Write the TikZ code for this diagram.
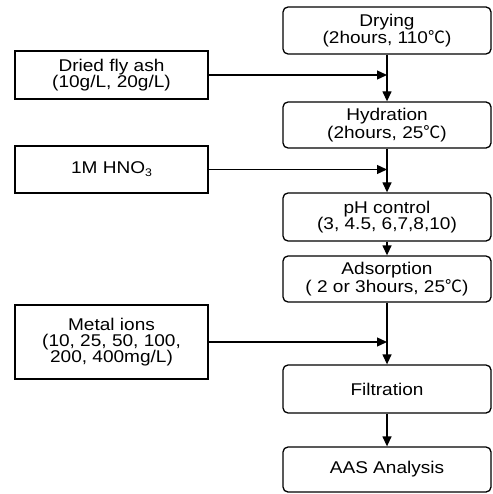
\documentclass[tikz,border=0pt]{standalone}
\usepackage{fontspec}
\setmainfont{Liberation Sans}[FakeStretch=1.12]
\newfontfamily\cjkfont{Noto Sans CJK KR}
\usetikzlibrary{arrows.meta}
\newcommand{\degc}{{\cjkfont ℃}}
\begin{document}
\begin{tikzpicture}[x=1pt,y=-1pt,
  every node/.style={font=\fontsize{17}{16.2}\selectfont, align=center, inner sep=0pt},
  proc/.style={draw, line width=1.3pt, rounded corners=5pt, minimum width=208pt},
  inp/.style={draw, line width=1.3pt, minimum width=193pt},
  arr/.style={line width=1.3pt, -{Triangle[length=10pt,width=9pt]}}]
\useasboundingbox (0,0) rectangle (492,494);
\node[proc, minimum height=47pt] (drying) at (387,30.5) {Drying\\(2hours, 110\degc)};
\node[proc, minimum height=46pt] (hyd) at (387,125) {Hydration\\(2hours, 25\degc)};
\node[proc, minimum height=48pt] (ph) at (387,217) {pH control\\(3, 4.5, 6,7,8,10)};
\node[proc, minimum height=46pt] (ads) at (387,279) {Adsorption\\( 2 or 3hours, 25\degc)};
\node[proc, minimum height=48pt] (filt) at (387,389) {Filtration};
\node[proc, minimum height=45pt] (aas) at (387,469.5) {AAS Analysis};
\node[inp, minimum height=48pt] (ash) at (111.5,75) {Dried fly ash\\(10g/L, 20g/L)};
\node[inp, minimum height=47pt] (hno) at (111.5,169.5) {1M HNO\raisebox{-0.35ex}{\fontsize{11}{11}\selectfont 3}};
\node[inp, minimum height=74pt] (metal) at (111.5,342) {Metal ions\\(10, 25, 50, 100,\\200, 400mg/L)};
\coordinate (j1) at (drying.south |- ash.east);
\coordinate (j2) at (hyd.south |- hno.east);
\coordinate (j3) at (ads.south |- metal.east);
\draw[arr] (drying.south) -- (hyd.north);
\draw[arr] (hyd.south) -- (ph.north);
\draw[arr] (ph.south) -- (ads.north);
\draw[arr] (ads.south) -- (filt.north);
\draw[arr] (filt.south) -- (aas.north);
\draw[arr] (ash.east) -- (j1);
\draw[arr] (hno.east) -- (j2);
\draw[arr] (metal.east) -- (j3);
\end{tikzpicture}
\end{document}
